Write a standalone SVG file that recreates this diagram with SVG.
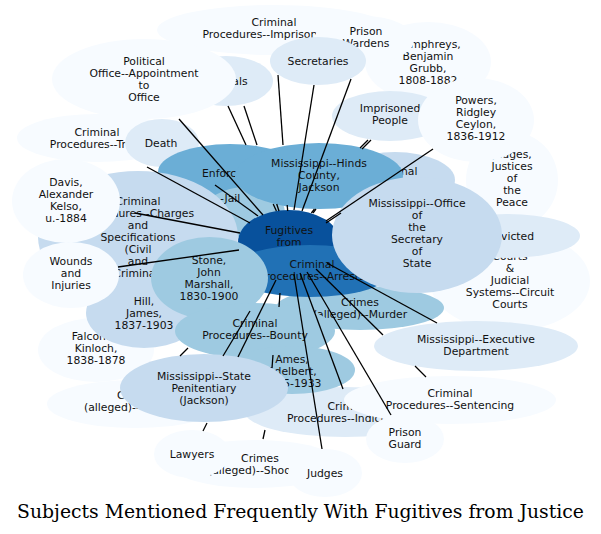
<svg xmlns="http://www.w3.org/2000/svg" width="601" height="534" viewBox="0 0 601 534">
<style>
text{font-family:"DejaVu Sans","Liberation Sans",sans-serif;font-size:10.8px;fill:#111;text-anchor:middle}
.s{text-anchor:start}
.c0{fill:#f7fbff}.c1{fill:#deebf7}.c2{fill:#c6dbef}.c3{fill:#9ecae1}.c4{fill:#6baed6}.c5{fill:#2171b5}.c6{fill:#08519c}
#edges line{stroke:#000;stroke-width:1.3}
.title{font-family:"DejaVu Serif","Liberation Serif",serif;font-size:18.8px;fill:#000}
</style>
<rect width="601" height="534" fill="#fff"/>
<g id="n-humphreys"><ellipse class="c0" cx="428" cy="62" rx="63" ry="40"/><text x="428" y="48">Humphreys,</text><text x="428" y="60">Benjamin</text><text x="428" y="72">Grubb,</text><text x="428" y="84">1808-1882</text></g>
<g id="n-imprisonment"><ellipse class="c0" cx="274" cy="30" rx="117" ry="25"/><text x="274" y="26">Criminal</text><text x="274" y="38">Procedures--Imprisonment</text></g>
<g id="n-wardens"><ellipse class="c0" cx="364" cy="40" rx="50" ry="24"/><text x="366" y="35">Prison</text><text x="366" y="47">Wardens</text></g>
<g id="n-secretaries"><ellipse class="c1" cx="318" cy="61" rx="48" ry="24"/><text x="318" y="65">Secretaries</text></g>
<g id="n-officials"><ellipse class="c1" cx="226" cy="81" rx="47" ry="25"/><text x="226" y="85">Officials</text></g>
<g id="n-political"><ellipse class="c0" cx="144" cy="79" rx="92" ry="40"/><text x="144" y="65">Political</text><text x="144" y="77">Office--Appointment</text><text x="144" y="89">to</text><text x="144" y="101">Office</text></g>
<g id="n-imprisoned"><ellipse class="c1" cx="390" cy="116" rx="58" ry="25"/><text x="390" y="112">Imprisoned</text><text x="390" y="124">People</text></g>
<g id="n-justices"><ellipse class="c0" cx="512" cy="180" rx="46" ry="48"/><text x="512" y="158">Judges,</text><text x="512" y="170">Justices</text><text x="512" y="182">of</text><text x="512" y="194">the</text><text x="512" y="206">Peace</text></g>
<g id="n-powers"><ellipse class="c0" cx="476" cy="120" rx="58" ry="42"/><text x="476" y="104">Powers,</text><text x="476" y="116">Ridgley</text><text x="476" y="128">Ceylon,</text><text x="476" y="140">1836-1912</text></g>
<g id="n-trials"><ellipse class="c0" cx="97" cy="138" rx="80" ry="24"/><text x="97" y="136">Criminal</text><text x="97" y="148">Procedures--Trials</text></g>
<g id="n-death"><ellipse class="c1" cx="162" cy="143" rx="37" ry="24"/><text x="161" y="147">Death</text></g>
<g id="n-enforcement"><ellipse class="c4" cx="230" cy="172" rx="72" ry="28"/><text class="s" x="202" y="177">Enforcement</text></g>
<g id="n-jail"><ellipse class="c3" cx="245" cy="212" rx="40" ry="25"/><text class="s" x="220" y="202">-Jail</text></g>
<g id="n-criminal-r"><ellipse class="c2" cx="395" cy="180" rx="60" ry="28"/><text x="395" y="175">Criminal</text></g>
<g id="n-hinds"><ellipse class="c4" cx="319" cy="176" rx="84" ry="33"/><text x="319" y="167">Mississippi--Hinds</text><text x="319" y="179">County,</text><text x="319" y="191">Jackson</text></g>
<g id="n-charges"><ellipse class="c2" cx="138" cy="237" rx="100" ry="66"/><text x="138" y="205">Criminal</text><text x="138" y="217">Procedures--Charges</text><text x="138" y="229">and</text><text x="138" y="241">Specifications</text><text x="138" y="253">(Civil</text><text x="138" y="265">and</text><text x="138" y="277">Criminal)</text></g>
<g id="n-davis"><ellipse class="c0" cx="66" cy="201" rx="54" ry="42"/><text x="66" y="186">Davis,</text><text x="66" y="198">Alexander</text><text x="66" y="210">Kelso,</text><text x="66" y="222">u.-1884</text></g>
<g id="n-falconer"><ellipse class="c0" cx="96" cy="350" rx="58" ry="32"/><text x="96" y="340">Falconer,</text><text x="96" y="352">Kinloch,</text><text x="96" y="364">1838-1878</text></g>
<g id="n-hill"><ellipse class="c2" cx="144" cy="313" rx="58" ry="35"/><text x="144" y="305">Hill,</text><text x="144" y="317">James,</text><text x="144" y="329">1837-1903</text></g>
<g id="n-wounds"><ellipse class="c0" cx="71" cy="275" rx="48" ry="33"/><text x="71" y="265">Wounds</text><text x="71" y="277">and</text><text x="71" y="289">Injuries</text></g>
<g id="n-crimes-alleged"><ellipse class="c0" cx="135" cy="404" rx="88" ry="24"/><text class="s" x="117" y="399">Crimes</text><text class="s" x="84" y="411">(alleged)--</text></g>
<g id="n-shooting"><ellipse class="c0" cx="255" cy="464" rx="85" ry="24"/><text x="260" y="462">Crimes</text><text class="s" x="208" y="474">(alleged)--Shoo</text></g>
<g id="n-lawyers"><ellipse class="c0" cx="192" cy="454" rx="38" ry="24"/><text x="192" y="458">Lawyers</text></g>
<g id="n-judges"><ellipse class="c0" cx="325" cy="473" rx="37" ry="24"/><text x="325" y="477">Judges</text></g>
<g id="n-indictment"><ellipse class="c1" cx="345" cy="412" rx="100" ry="25"/><text x="350" y="410">Criminal</text><text x="350" y="422">Procedures--Indictment</text></g>
<g id="n-sentencing"><ellipse class="c0" cx="450" cy="400" rx="106" ry="24"/><text x="450" y="397">Criminal</text><text x="450" y="409">Procedures--Sentencing</text></g>
<g id="n-guard"><ellipse class="c0" cx="405" cy="439" rx="39" ry="24"/><text x="405" y="436">Prison</text><text x="405" y="448">Guard</text></g>
<g id="n-courts"><ellipse class="c0" cx="510" cy="281" rx="80" ry="50"/><text x="510" y="260">Courts</text><text x="510" y="272">&amp;</text><text x="510" y="284">Judicial</text><text x="510" y="296">Systems--Circuit</text><text x="510" y="308">Courts</text></g>
<g id="n-convicted"><ellipse class="c1" cx="507" cy="236" rx="73" ry="22"/><text class="s" x="480" y="240">Convicted</text></g>
<g id="n-executive"><ellipse class="c1" cx="476" cy="346" rx="102" ry="25"/><text x="476" y="343">Mississippi--Executive</text><text x="476" y="355">Department</text></g>
<g id="n-murder"><ellipse class="c3" cx="360" cy="308" rx="84" ry="22"/><text x="360" y="306">Crimes</text><text x="360" y="318">(alleged)--Murder</text></g>
<g id="n-fugitives"><ellipse class="c6" cx="289" cy="242" rx="51" ry="32"/><text x="289" y="234">Fugitives</text><text x="289" y="246">from</text></g>
<g id="n-arrests"><ellipse class="c5" cx="310" cy="271" rx="82" ry="26"/><text x="312" y="268">Criminal</text><text x="312" y="280">Procedures--Arrests</text></g>
<g id="n-secstate"><ellipse class="c2" cx="417" cy="235" rx="85" ry="58"/><text x="417" y="207">Mississippi--Office</text><text x="417" y="219">of</text><text x="417" y="231">the</text><text x="417" y="243">Secretary</text><text x="417" y="255">of</text><text x="417" y="267">State</text></g>
<g id="n-stone"><ellipse class="c3" cx="209.5" cy="278" rx="58.5" ry="41"/><text x="209" y="264">Stone,</text><text x="209" y="276">John</text><text x="209" y="288">Marshall,</text><text x="209" y="300">1830-1900</text></g>
<g id="n-bounty"><ellipse class="c3" cx="255" cy="331" rx="80" ry="28"/><text x="255" y="327">Criminal</text><text x="255" y="339">Procedures--Bounty</text></g>
<g id="n-ames"><ellipse class="c3" cx="292" cy="370" rx="63" ry="24"/><text x="292" y="363">Ames,</text><text x="292" y="375">Adelbert,</text><text x="292" y="387">1835-1933</text></g>
<g id="n-penitentiary"><ellipse class="c2" cx="204" cy="388" rx="84" ry="34"/><text x="204" y="380">Mississippi--State</text><text x="204" y="392">Penitentiary</text><text x="204" y="404">(Jackson)</text></g>
<g id="edges">
<line x1="179" y1="119" x2="263" y2="215"/>
<line x1="228" y1="106" x2="246" y2="145"/>
<line x1="244" y1="106" x2="257" y2="145"/>
<line x1="278" y1="75" x2="283" y2="145"/>
<line x1="273.2" y1="204" x2="276.4" y2="211"/>
<line x1="276.7" y1="204" x2="279" y2="211"/>
<line x1="287.2" y1="205" x2="287.7" y2="211"/>
<line x1="314" y1="85" x2="294" y2="210"/>
<line x1="351" y1="79" x2="302" y2="211"/>
<line x1="371" y1="140" x2="362" y2="149"/>
<line x1="368" y1="140" x2="360" y2="148"/>
<line x1="316" y1="209" x2="313" y2="213"/>
<line x1="314.5" y1="209" x2="311.4" y2="213"/>
<line x1="433" y1="149" x2="326" y2="221"/>
<line x1="326" y1="223" x2="341" y2="213"/>
<line x1="147" y1="167" x2="250" y2="223"/>
<line x1="215" y1="185" x2="258" y2="216"/>
<line x1="135" y1="213" x2="240" y2="233"/>
<line x1="118" y1="267" x2="239" y2="250"/>
<line x1="250" y1="311" x2="223" y2="356"/>
<line x1="276" y1="280" x2="238" y2="357"/>
<line x1="207" y1="423" x2="203" y2="431"/>
<line x1="188" y1="348" x2="180" y2="356"/>
<line x1="280" y1="293" x2="279" y2="307"/>
<line x1="273" y1="355" x2="272" y2="368"/>
<line x1="265" y1="430" x2="263" y2="439"/>
<line x1="294" y1="274" x2="322" y2="449"/>
<line x1="300" y1="273" x2="343" y2="389"/>
<line x1="307" y1="272" x2="391" y2="415"/>
<line x1="316" y1="269" x2="383" y2="335"/>
<line x1="415" y1="366" x2="426" y2="377"/>
<line x1="327" y1="263" x2="437" y2="323"/>
</g>
<text class="title" x="300.5" y="518">Subjects Mentioned Frequently With Fugitives from Justice</text>
</svg>
